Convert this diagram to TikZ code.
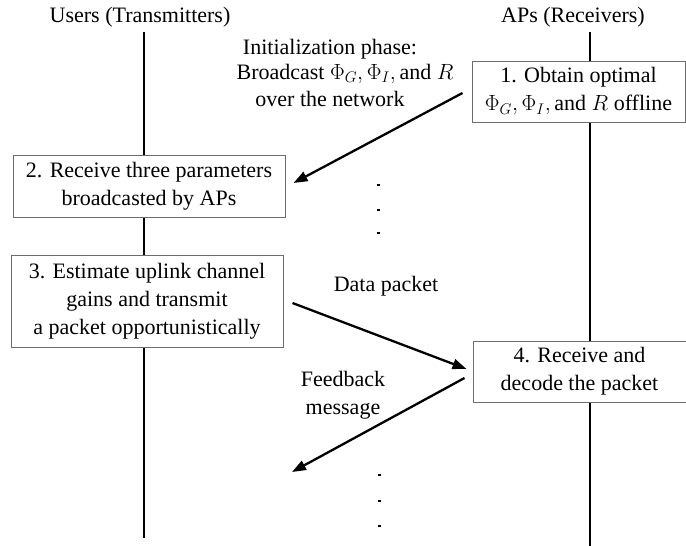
\RequirePackage{fix-cm}
\documentclass[tikz,border=0pt]{standalone}
\usepackage{fontspec}
\setmainfont{Liberation Serif}
\usetikzlibrary{arrows.meta,calc}
\begin{document}
\begin{tikzpicture}[x=1pt,y=-1pt,
  font=\fontsize{22}{28}\selectfont,
  life/.style={line width=2.4pt,black},
  stepbox/.style={draw=gray!85!black,line width=1pt,fill=white,align=center,inner sep=0pt,rectangle},
  msg/.style={line width=2.3pt,-{Triangle[length=14pt,width=10pt]}},
  lbl/.style={align=center,inner sep=0pt},
  dotm/.style={fill=black,inner sep=0pt,minimum width=3pt,minimum height=1.6pt,rectangle}]
\useasboundingbox (0,0) rectangle (686,546);
% titles
\node[anchor=base] (tL) at (140,22) {Users (Transmitters)};
\node[anchor=base] (tR) at (573,22) {APs (Receivers)};
% lifelines
\coordinate (Ltop) at (144,32);
\coordinate (Lbot) at (144,538);
\coordinate (Rtop) at (590,32);
\coordinate (Rbot) at (590,546);
\draw[life] (Ltop) -- (Lbot);
\draw[life] (Rtop) -- (Rbot);
% boxes
\node[stepbox,minimum width=213pt,minimum height=61pt] (b1) at (578.5,91.5)
  {1. Obtain optimal\\$\Phi_G, \Phi_I, \mathrm{and}\ R$ offline};
\node[stepbox,minimum width=272pt,minimum height=62pt] (b2) at (149,186)
  {2. Receive three parameters\\broadcasted by APs};
\node[stepbox,minimum width=272pt,minimum height=92pt] (b3) at (147,301)
  {3. Estimate uplink channel\\gains and transmit\\a packet opportunistically};
\node[stepbox,minimum width=213pt,minimum height=61pt] (b4) at (579.5,371.5)
  {4. Receive and\\decode the packet};
% labels
\node[lbl,anchor=base] (init) at (330,106)
  {Initialization phase:\\[-3pt]\hspace*{30pt}Broadcast $\Phi_G, \Phi_I, \mathrm{and}\ R$\\[-1pt]over the network};
\node[lbl] (data) at (386,286) {Data packet};
\node[lbl] (fb) at (343,395) {Feedback\\message};
% messages
\coordinate (fbend) at (292,472);
\draw[msg] ($(b1.west)+(-9,1.5)$) -- ($(b2.east)+(8,-3)$);
\draw[msg] ($(b3.east)+(9,2)$) -- ($(b4.west)+(-6,-2.5)$);
\draw[msg] ($(b4.west)+(-8,6.5)$) -- (fbend);
% dots
\node[dotm] (d1) at (378,185) {};
\node[dotm] (d2) at (378,210) {};
\node[dotm] (d3) at (378,233) {};
\node[dotm] (d4) at (379,475) {};
\node[dotm] (d5) at (379,501) {};
\node[dotm] (d6) at (379,526) {};
\end{tikzpicture}
\end{document}
